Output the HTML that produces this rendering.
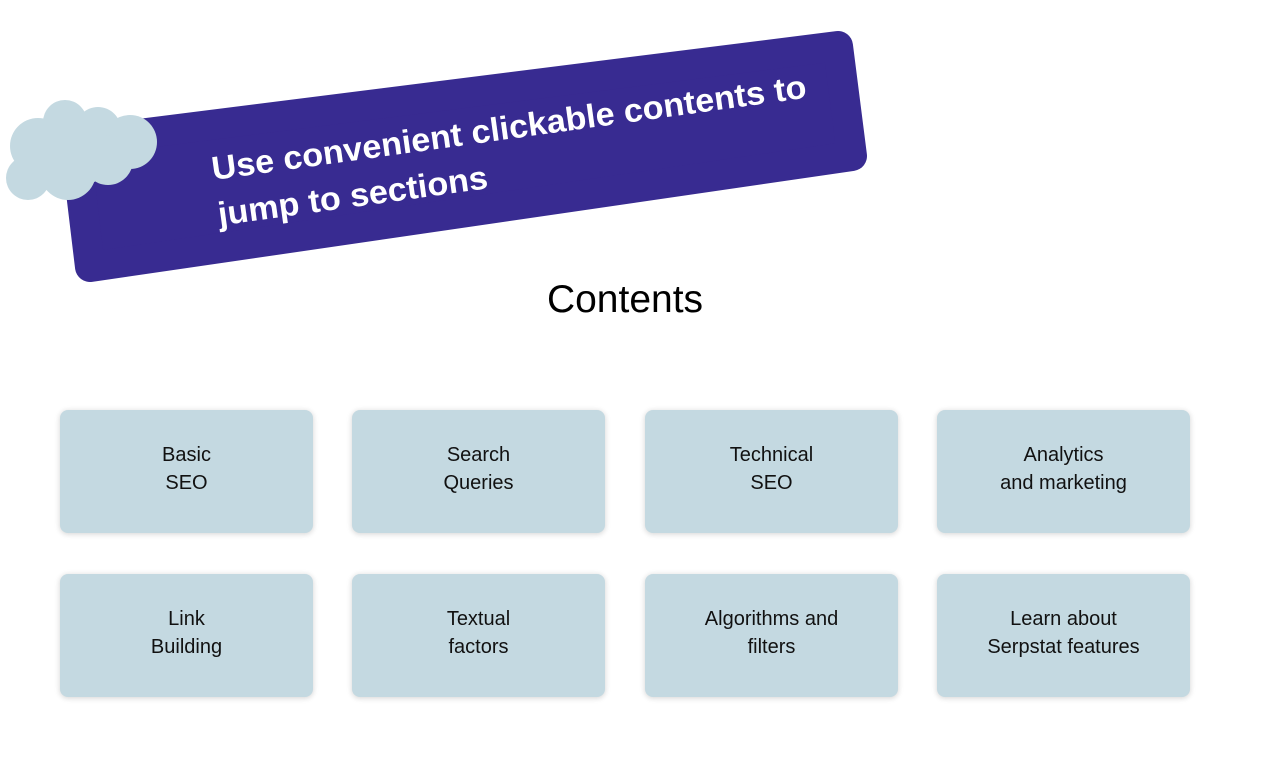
<!DOCTYPE html>
<html><head><style>
body{margin:0;width:1270px;height:760px;background:#fff;position:relative;overflow:hidden;font-family:"Liberation Sans",sans-serif}
.b{position:absolute;width:253px;height:123px;background:#c4d9e1;border-radius:8px;box-shadow:0 1px 6px rgba(0,0,0,0.18);display:flex;align-items:center;justify-content:center;text-align:center;font-size:20px;line-height:28px;color:#111;padding-bottom:6px;box-sizing:border-box}
h1{position:absolute;left:0;width:1250px;top:278px;margin:0;text-align:center;font-weight:normal;font-size:39px;color:#000}
</style></head><body>
<svg width="1270" height="300" style="position:absolute;left:0;top:0">
<polygon points="75,142 838,46 852,156 90,267" fill="#382b91" stroke="#382b91" stroke-width="30" stroke-linejoin="round"/>
<g fill="#c4d9e1">
<circle cx="80" cy="150" r="35"/>
<circle cx="65" cy="122" r="22"/><circle cx="98" cy="130" r="23"/><circle cx="130" cy="142" r="27"/>
<circle cx="38" cy="146" r="28"/><circle cx="28" cy="178" r="22"/><circle cx="68" cy="172" r="28"/><circle cx="108" cy="160" r="25"/>
</g>
<g transform="rotate(-7.9 213 178)" fill="#fff" font-weight="bold" font-size="33" font-family="Liberation Sans, sans-serif">
<text x="213" y="180" textLength="600" lengthAdjust="spacingAndGlyphs">Use convenient clickable contents to</text>
<text x="213" y="226" textLength="272" lengthAdjust="spacingAndGlyphs">jump to sections</text>
</g>
</svg>
<h1>Contents</h1>
<div class="b" style="left:60px;top:410px">Basic<br>SEO</div>
<div class="b" style="left:352px;top:410px">Search<br>Queries</div>
<div class="b" style="left:645px;top:410px">Technical<br>SEO</div>
<div class="b" style="left:937px;top:410px">Analytics<br>and marketing</div>
<div class="b" style="left:60px;top:574px">Link<br>Building</div>
<div class="b" style="left:352px;top:574px">Textual<br>factors</div>
<div class="b" style="left:645px;top:574px">Algorithms and<br>filters</div>
<div class="b" style="left:937px;top:574px">Learn about<br>Serpstat features</div>
</body></html>
